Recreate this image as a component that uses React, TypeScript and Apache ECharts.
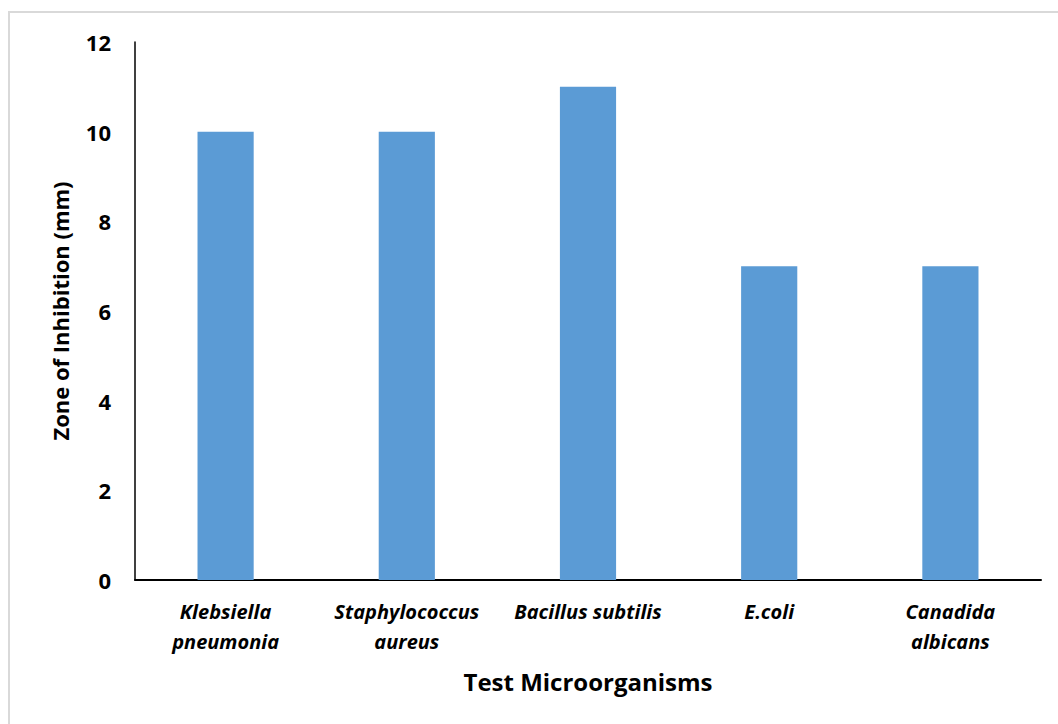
import React, { useEffect, useRef } from "react";
import * as echarts from "echarts";

const categories = [
  "Klebsiella\npneumonia",
  "Staphylococcus\naureus",
  "Bacillus subtilis",
  "E.coli",
  "Canadida\nalbicans",
];
const zoneValues = [10, 10, 11, 7, 7];
const yTicks = { min: 0, max: 12, interval: 2 };

const FONT = "'Open Sans', Lato, sans-serif";

export default function App() {
  const ref = useRef<HTMLDivElement>(null);
  useEffect(() => {
    document.body.style.margin = "0";
    const chart = echarts.init(ref.current!, null, { renderer: "svg" });
    chart.setOption({
      animation: false,
      backgroundColor: "#ffffff",
      graphic: [
        {
          type: "rect",
          shape: { x: 9, y: 12, width: 1070, height: 730 },
          style: { fill: "none", stroke: "#d9d9d9", lineWidth: 2 },
          silent: true,
        },
      ],
      grid: { left: 135, top: 42, right: 17, bottom: 144, containLabel: false },
      xAxis: {
        type: "category",
        data: categories,
        boundaryGap: true,
        axisLine: { show: true, lineStyle: { color: "#000", width: 2 } },
        axisTick: { show: false },
        axisLabel: {
          interval: 0,
          margin: 16,
          fontFamily: FONT,
          fontSize: 20,
          fontWeight: "bold",
          fontStyle: "italic",
          color: "#000",
          lineHeight: 30,
        },
        name: "Test Microorganisms",
        nameLocation: "middle",
        nameGap: 89,
        nameTextStyle: {
          fontFamily: FONT,
          fontSize: 24,
          fontWeight: "bold",
          color: "#000",
        },
      },
      yAxis: {
        type: "value",
        min: yTicks.min,
        max: yTicks.max,
        interval: yTicks.interval,
        axisLine: { show: true, lineStyle: { color: "#000", width: 1.5 } },
        axisTick: { show: false },
        splitLine: { show: false },
        axisLabel: {
          margin: 24,
          fontFamily: FONT,
          fontSize: 22,
          fontWeight: "bold",
          color: "#000",
        },
        name: "Zone of Inhibition (mm)",
        nameLocation: "middle",
        nameGap: 64,
        nameRotate: 90,
        nameTextStyle: {
          fontFamily: FONT,
          fontSize: 22,
          fontWeight: "bold",
          color: "#000",
        },
      },
      series: [
        {
          type: "bar",
          data: zoneValues,
          barWidth: "31%",
          itemStyle: { color: "#5B9BD5" },
        },
      ],
    });
    return () => chart.dispose();
  }, []);
  return <div ref={ref} style={{ width: 1058, height: 724 }} />;
}
